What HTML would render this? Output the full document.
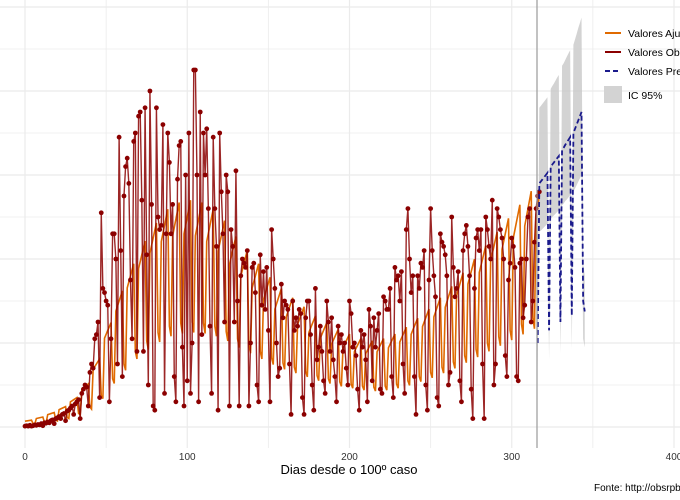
<!DOCTYPE html>
<html><head><meta charset="utf-8"><style>
body{margin:0;background:#fff;}
svg{display:block;font-family:"Liberation Sans",sans-serif;}
</style></head><body>
<svg id="chart" width="680" height="500">
<g id="grid"></g>
<g id="ribbon"></g>
<g id="series"></g>
<line x1="537" y1="0" x2="537" y2="448" stroke="#9a9a9a" stroke-width="1.2"/>
<g id="xticks"></g>
<text x="349" y="474" font-size="13" text-anchor="middle" fill="#000">Dias desde o 100º caso</text>
<text x="594" y="491" font-size="10" fill="#000">Fonte: http://obsrpb.</text>
<g>
<line x1="605" y1="33" x2="621" y2="33" stroke="#e06a00" stroke-width="2"/>
<text x="628" y="37" font-size="10.5">Valores Ajustados</text>
<line x1="605" y1="52" x2="621" y2="52" stroke="#8b0000" stroke-width="2"/>
<text x="628" y="56" font-size="10.5">Valores Observados</text>
<line x1="605" y1="71" x2="621" y2="71" stroke="#1a1a8c" stroke-width="2" stroke-dasharray="5,3"/>
<text x="628" y="75" font-size="10.5">Valores Preditos</text>
<rect x="604" y="86" width="18" height="17" fill="#d3d3d3"/>
<text x="628" y="99" font-size="10.5">IC 95%</text>
</g>
</svg>
<script>
const xTicks=[0,100,200,300,400];
const observed=[
2,3,2,4,2,3,5,
4,6,5,8,3,10,9,
12,10,15,17,8,20,22,
25,20,30,32,15,38,40,
45,50,30,55,60,65,20,
80,90,100,95,50,130,150,
140,210,220,250,70,510,330,
320,300,290,60,210,460,460,
400,150,690,420,120,550,620,
640,580,350,210,680,700,180,
740,750,540,180,760,410,100,
800,530,50,40,760,500,470,
480,720,80,460,700,630,460,
530,120,60,590,670,680,190,
50,600,110,700,80,200,850,
850,600,60,750,220,700,600,
710,520,240,80,690,520,430,
40,700,560,460,250,600,560,
50,470,430,250,610,300,50,
360,400,390,380,420,50,200,
380,390,320,100,60,410,290,
370,280,380,230,60,470,400,
330,200,120,140,340,260,300,
290,280,150,30,300,230,260,
240,280,270,70,30,260,300,
300,220,100,40,330,160,190,
240,180,110,80,300,250,180,
260,160,120,60,240,200,220,
180,200,140,100,300,270,190,
200,170,90,40,230,190,220,
160,60,280,240,110,260,190,
230,270,90,80,310,300,280,
280,330,120,70,380,350,360,
300,370,150,80,470,520,400,
320,360,120,30,360,330,390,
380,420,100,40,350,520,420,
360,310,70,50,460,440,430,
410,360,100,130,500,380,310,
330,370,110,60,420,460,480,
430,360,90,20,330,450,470,
420,470,150,20,500,470,430,
400,540,100,150,520,500,470,
450,400,170,120,350,390,450,
430,380,120,110,390,400,260,
290,400,500,520,250,300,440,
520,550,560];
const fittedWeekLevel=[15,22,32,45,65,95,150,230,300,360,410,450,480,495,500,495,480,455,420,390,360,330,305,285,265,245,230,215,205,195,190,195,205,220,240,260,285,310,340,370,400,430,460,490,520,550];
const weekdayFactor=[0.92,0.96,1.0,1.04,1.08,0.5,0.45];
const predStartDay=316;
const predicted=[200,580,585,590,595,600,605,230,620,625,630,635,640,645,250,660,665,672,678,684,690,265,700,710,720,730,740,750,300,275];
const predLow=[140,465,468,472,476,480,484,160,496,500,504,508,512,516,175,528,532,538,542,547,552,185,560,568,576,584,592,600,210,190];
const predHigh=[270,760,765,770,775,780,785,300,805,812,818,825,832,838,330,860,866,874,882,890,897,345,910,923,936,950,962,975,390,360];

const NS='http://www.w3.org/2000/svg';
const sx=d=>25+d*1.6225;
const sy=v=>427-v*0.42;
function mk(tag,attrs,parent){const e=document.createElementNS(NS,tag);for(const k in attrs)e.setAttribute(k,attrs[k]);parent.appendChild(e);return e;}
const grid=document.getElementById('grid');
for(let k=0;k<=10;k++){
  const y=427-42*k;
  const l=mk('line',{x1:0,x2:680,y1:y,y2:y,stroke:'#ebebeb','stroke-width':k%2?0.8:1.2},grid);
  
  
}
for(let d=0;d<=400;d+=50){
  const x=sx(d);
  const l=mk('line',{x1:x,x2:x,y1:0,y2:448,stroke:'#ebebeb','stroke-width':d%100?0.8:1.2},grid);
  
  
}
const xt=document.getElementById('xticks');
xTicks.forEach(t=>{
  const e=mk('text',{x:sx(t),y:460,'font-size':10,'text-anchor':'middle',fill:'#333'},xt);
  e.textContent=t;
  
  
});
const rib=document.getElementById('ribbon');
let rp=[];
predHigh.forEach((v,i)=>rp.push(sx(predStartDay+i)+','+sy(v)));
for(let i=predLow.length-1;i>=0;i--)rp.push(sx(predStartDay+i)+','+sy(predLow[i]));
const rpoly=mk('polygon',{points:rp.join(' '),fill:'#c8c8c8','fill-opacity':0.8},rib);


const ser=document.getElementById('series');
let fp=[];
for(let d=0;d<=317;d++){const w=Math.floor(d/7);fp.push(sx(d)+','+sy(fittedWeekLevel[w]*weekdayFactor[d%7]));}
const fl=mk('polyline',{points:fp.join(' '),fill:'none',stroke:'#e06a00','stroke-width':1.6},ser);


const op=observed.map((v,i)=>sx(i)+','+sy(v)).join(' ');
const ol=mk('polyline',{points:op,fill:'none',stroke:'#8b0000','stroke-width':1.4,'stroke-opacity':0.85},ser);


observed.forEach((v,i)=>{
  const c=mk('circle',{cx:sx(i),cy:sy(v),r:2.4,fill:'#8b0000'},ser);
  
  
});
const pp=predicted.map((v,i)=>sx(predStartDay+i)+','+sy(v)).join(' ');
const pl=mk('polyline',{points:pp,fill:'none',stroke:'#1a1a8c','stroke-width':1.8,'stroke-dasharray':'5,3'},ser);


</script>
</body></html>
